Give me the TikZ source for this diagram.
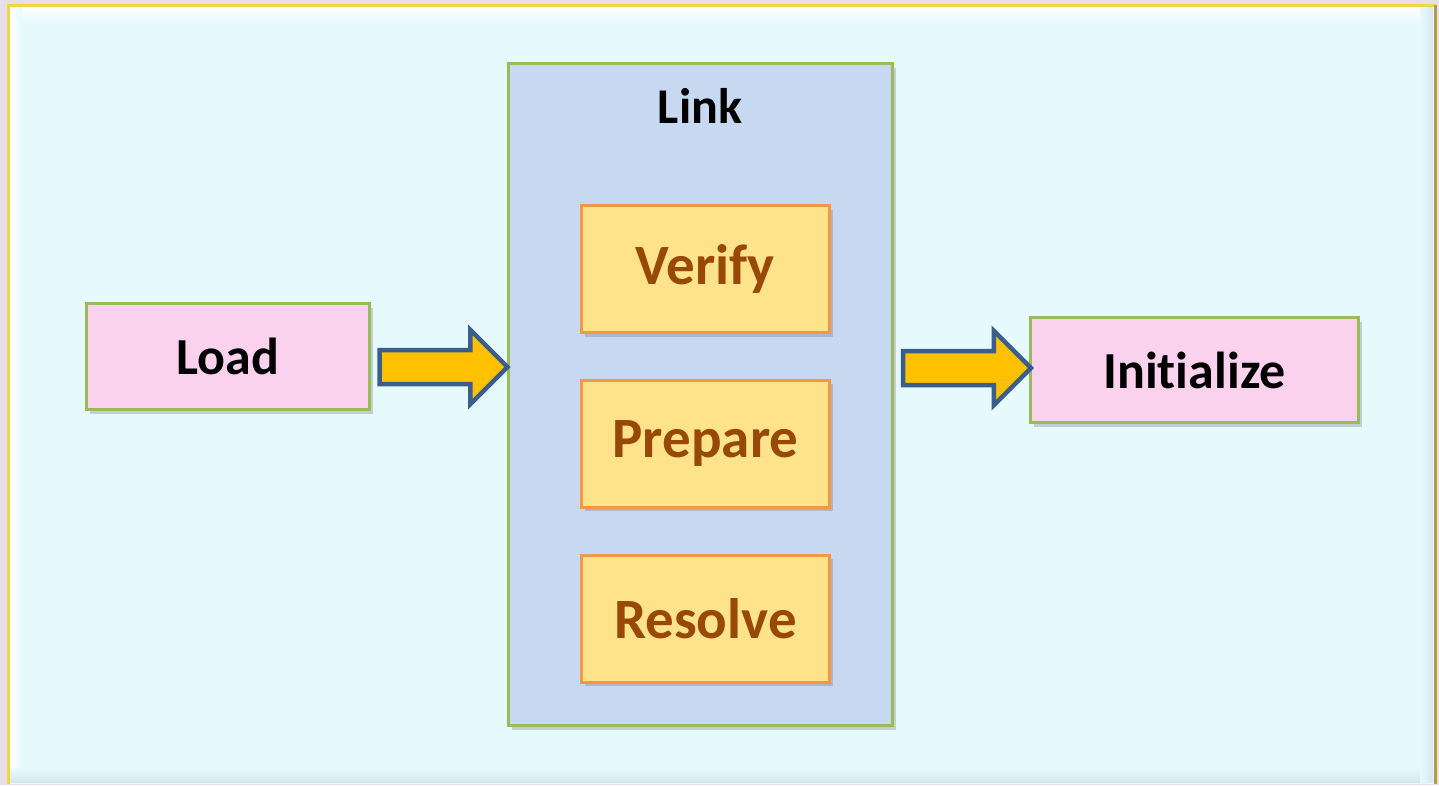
\documentclass[tikz,border=0pt]{standalone}
\usepackage{fontspec}
\setmainfont{Carlito}[Ligatures=NoCommon]
\usetikzlibrary{shapes.arrows,shadows}
\definecolor{outerbg}{HTML}{E6DFEA}
\definecolor{framefill}{HTML}{E6FAFE}
\definecolor{frameyellow}{HTML}{F0D640}
\definecolor{framegold}{HTML}{B89B3E}
\definecolor{pinkfill}{HTML}{FAD2EE}
\definecolor{greenline}{HTML}{9BBB59}
\definecolor{linkfill}{HTML}{C6D9F1}
\definecolor{goldfill}{HTML}{FEE38B}
\definecolor{orangeline}{HTML}{F79646}
\definecolor{browntext}{HTML}{984807}
\definecolor{arrowfill}{HTML}{FFC000}
\definecolor{arrowline}{HTML}{3A5E8C}
\tikzset{
  boxshadow/.style={drop shadow={shadow xshift=3pt, shadow yshift=-4pt, opacity=0.28, fill=black!60}},
  stagebox/.style={draw=greenline, line width=3pt, fill=pinkfill, inner sep=0pt,
    boxshadow, font=\bfseries\fontsize{52}{60}\selectfont, text=black},
  linkbox/.style={draw=greenline, line width=3pt, fill=linkfill, inner sep=0pt, boxshadow},
  substep/.style={draw=orangeline, line width=3pt, fill=goldfill, inner sep=0pt,
    minimum width=248pt, minimum height=127pt, boxshadow,
    font=\bfseries\fontsize{57}{64}\selectfont, text=browntext},
  flowarrow/.style={single arrow, draw=arrowline, line width=4.5pt, fill=arrowfill,
    inner xsep=0pt, inner ysep=14.75pt, minimum height=128pt,
    single arrow head extend=20.25pt, single arrow tip angle=90}
}
\begin{document}
\begin{tikzpicture}[x=1pt,y=-1pt]
\useasboundingbox[fill=outerbg] (0,0) rectangle (1439,785);
% outer frame
\fill[framefill] (8,5) rectangle (1435,784);
\shade[top color=white, bottom color=framefill] (10,7) rectangle (1433,22);
\shade[left color=white, right color=framefill] (10,7) rectangle (22,782);
\shade[top color=framefill, bottom color=framefill!85!gray] (10,768) rectangle (1433,782);
\shade[left color=framefill, right color=framefill!85!gray] (1420,7) rectangle (1433,782);
\draw[frameyellow, line width=3pt] (8,784) -- (8,5) -- (1435,5);
\draw[framegold, line width=3pt] (1435,5) -- (1435,784);
% nodes
\node[stagebox, minimum width=283pt, minimum height=106pt] (load) at (228,356.5) {Load};
\node[linkbox, minimum width=384pt, minimum height=662pt] (link) at (700.5,394.5) {};
\node[anchor=base, font=\bfseries\fontsize{50}{60}\selectfont] (linktitle) at (700,123) {Link};
\node[substep] (verify) at (705.5,269) {Verify};
\node[substep] (prepare) at (705.5,443.5) {Prepare};
\node[substep] (resolve) at (705.5,618.5) {Resolve};
\node[stagebox, minimum width=328pt, minimum height=105pt] (init) at (1194.5,370) {Initialize};
% arrows
\node[flowarrow] (a1) at (435,367) {};
\node[flowarrow] (a2) at (958.5,368) {};
\end{tikzpicture}
\end{document}
